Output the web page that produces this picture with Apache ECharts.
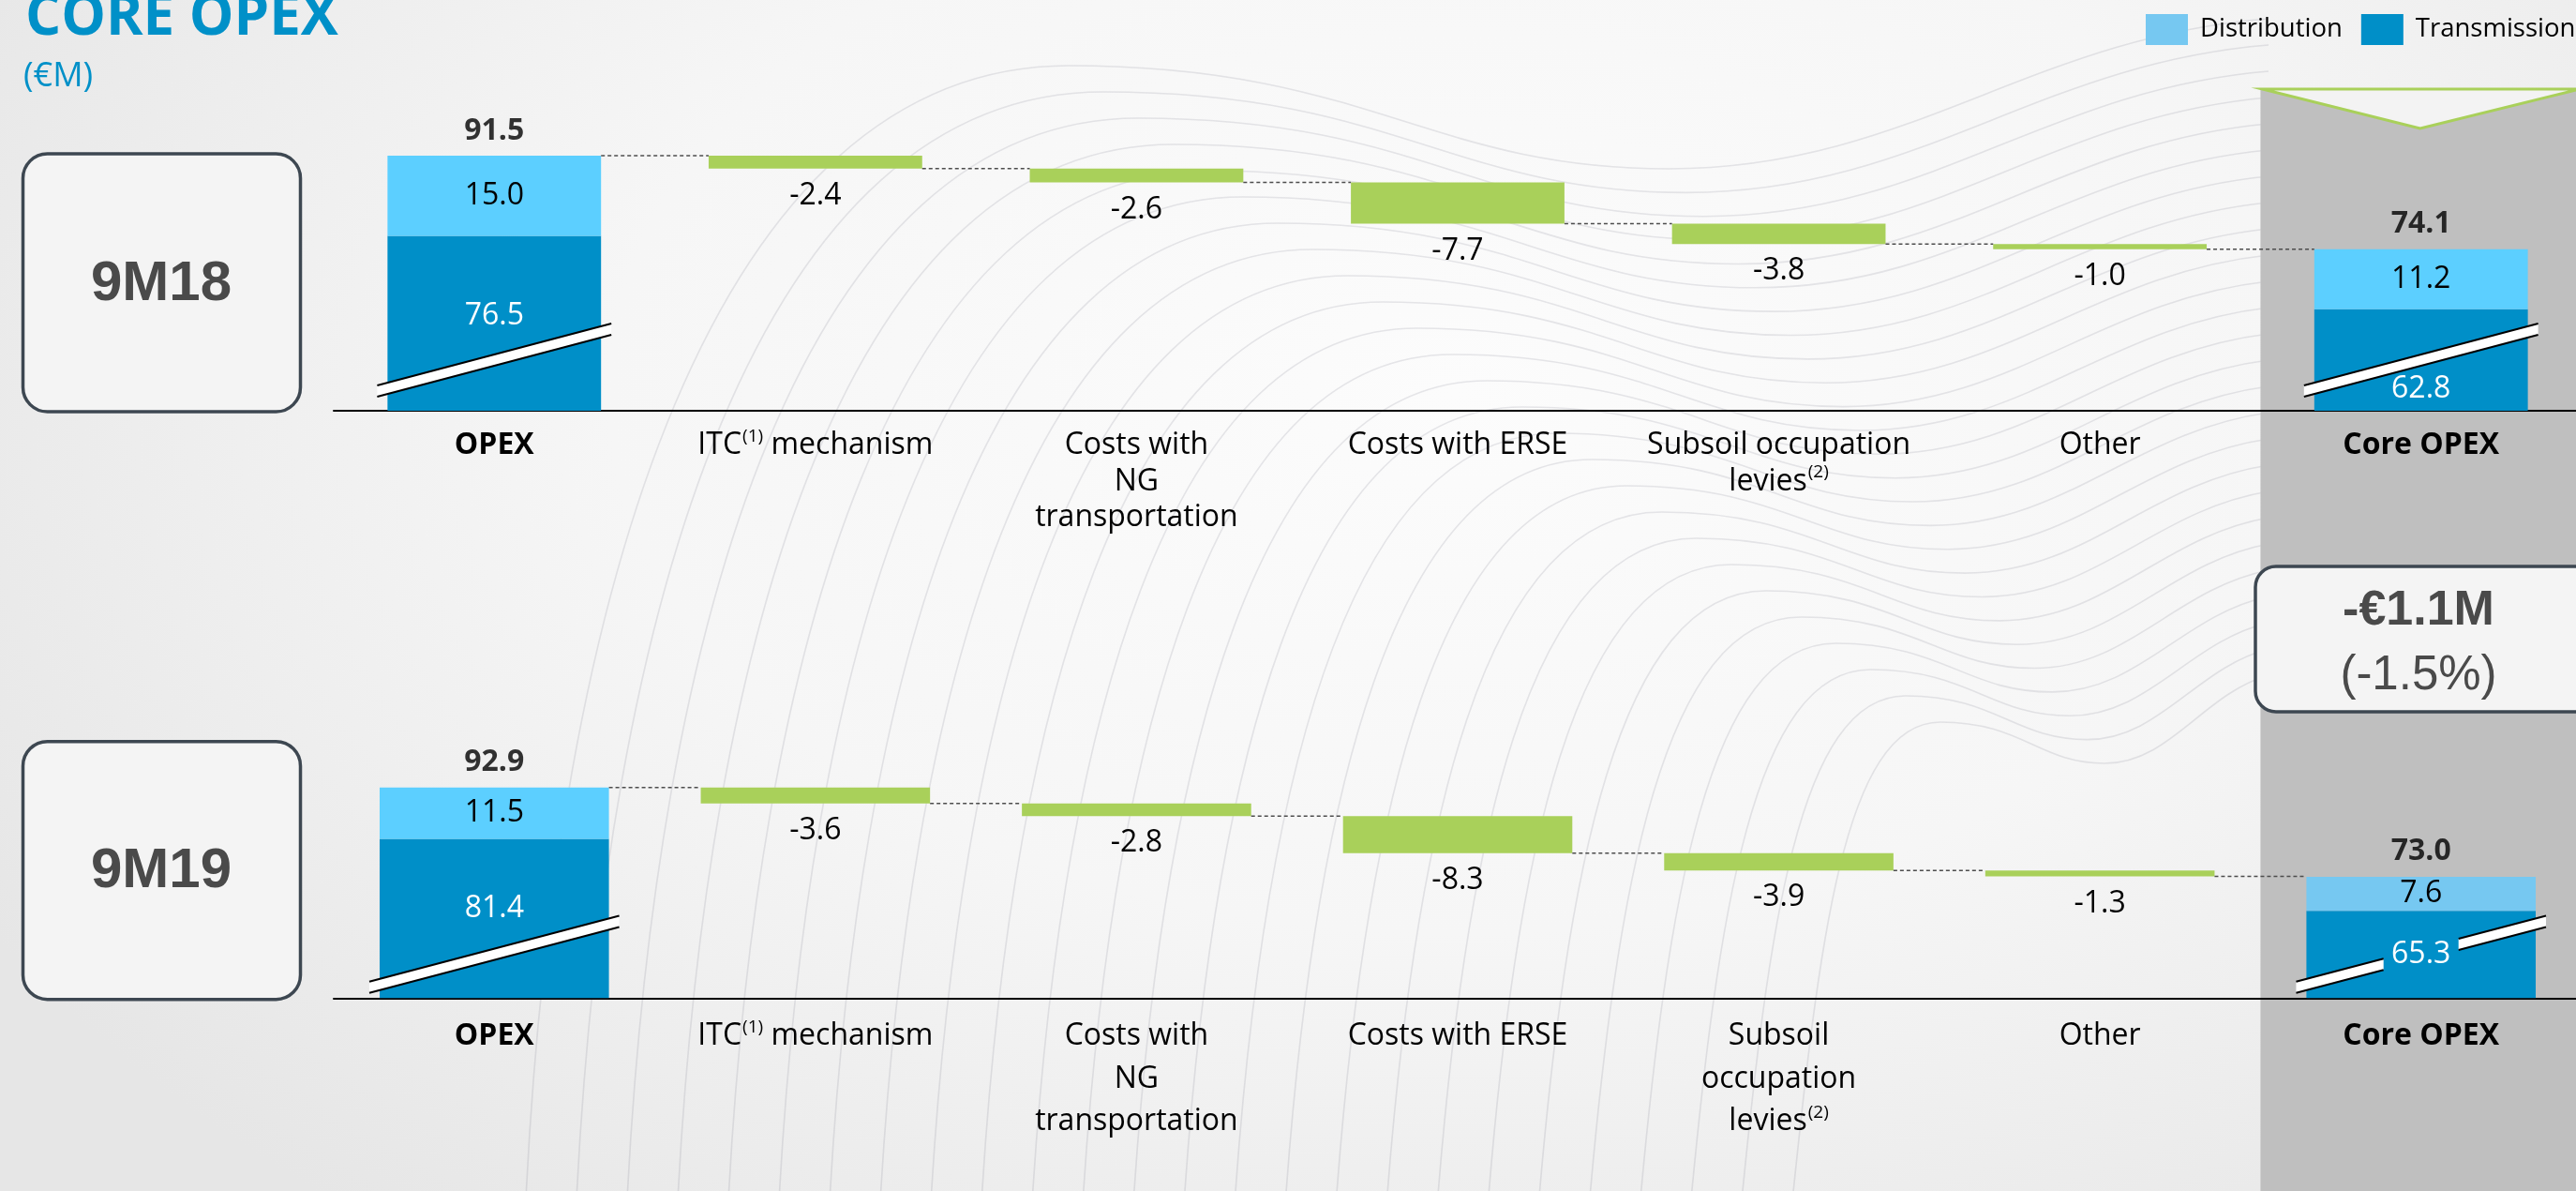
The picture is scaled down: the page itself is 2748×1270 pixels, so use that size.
<!DOCTYPE html>
<html>
<head>
<meta charset="utf-8">
<title>Core OPEX</title>
<script src="https://cdn.jsdelivr.net/npm/echarts@6/dist/echarts.min.js"></script>
<style>
  html, body { margin: 0; padding: 0; width: 2748px; height: 1270px; overflow: hidden; }
  body { background: radial-gradient(ellipse 1800px 1150px at 1550px 420px, #fcfcfc 0%, #f6f6f6 50%, #e6e6e6 100%); }
  #chart { width: 2748px; height: 1270px; }
</style>
</head>
<body>
<div id="chart"></div>
<script>
// ---- Values (€M) ----
const periods = ['9M18', '9M19'];

const categories9M18 = ['{b|OPEX}', 'ITC{sup|(1)} mechanism', 'Costs with\nNG\ntransportation', 'Costs with ERSE',
  'Subsoil occupation\nlevies{sup|(2)}', 'Other', '{b|Core OPEX}'];
const categories9M19 = ['{b|OPEX}', 'ITC{sup|(1)} mechanism', 'Costs with\nNG\ntransportation', 'Costs with ERSE',
  'Subsoil\noccupation\nlevies{sup|(2)}', 'Other', '{b|Core OPEX}'];

// [OPEX, Core OPEX]
const transmission9M18 = [76.5, 62.8];
const distribution9M18 = [15.0, 11.2];
const totals9M18 = [91.5, 74.1];
// ITC, NG transportation, ERSE, subsoil levies, other
const changes9M18 = [-2.4, -2.6, -7.7, -3.8, -1.0];

const transmission9M19 = [81.4, 65.3];
const distribution9M19 = [11.5, 7.6];
const totals9M19 = [92.9, 73.0];
const changes9M19 = [-3.6, -2.8, -8.3, -3.9, -1.3];

const variationAbs = '-€1.1M';
const variationPct = '(-1.5%)';

// ---- Styling ----
const FONT = "'Open Sans', sans-serif";
const BOX_FONT = "'Liberation Sans', Arial, sans-serif";
const COLORS = {
  transmission: '#008fc8',
  distribution: '#5ccfff',
  distributionSoft: '#76c8f1',
  change: '#a9d05a',
  ink: '#000000',
  frame: '#3d4751',
  frameText: '#4a4a4a',
  panel: '#bfbfbf',
  title: '#0090c8',
  connector: '#4d4d4d',
  swirl: 'rgba(120,120,135,0.17)'
};

const panelCfg = [
  {
    labels: categories9M18, trans: transmission9M18, dist: distribution9M18,
    totals: totals9M18, changes: changes9M18,
    grid: { left: 356, right: -6, top: 117.4, height: 320.6 },
    min: 43.85, max: 100, barRatio: 0.665,
    lineHeight: 38.5, margin: 18, supPad: 0,
    transShift: [-8, 31], distColors: [COLORS.distribution, COLORS.distribution],
    breakLift: 21, labelGapOnCore: false
  },
  {
    labels: categories9M19, trans: transmission9M19, dist: distribution9M19,
    totals: totals9M19, changes: changes9M19,
    grid: { left: 356, right: -6, top: 805.8, height: 258.5 },
    min: 45.8, max: 100, barRatio: 0.714,
    lineHeight: 45.5, margin: 18, supPad: 4,
    transShift: [-11, 0], distColors: [COLORS.distribution, COLORS.distributionSoft],
    breakLift: 11.5, labelGapOnCore: true
  }
];

const chart = echarts.init(document.getElementById('chart'), null, { renderer: 'canvas' });

const grids = [], xAxes = [], yAxes = [], series = [];

panelCfg.forEach((cfg, p) => {
  const n = cfg.labels.length;
  const blanks = cfg.changes.map(() => '-');

  // running level after each step of the bridge
  const levels = [cfg.totals[0]];
  cfg.changes.forEach((c, i) => levels.push(Math.round((levels[i] + c) * 10) / 10));

  grids.push(Object.assign({ outerBoundsMode: 'none', containLabel: false }, cfg.grid));

  xAxes.push({
    type: 'category', gridIndex: p, data: cfg.labels,
    axisLine: { show: true, lineStyle: { color: '#000', width: 2 } },
    axisTick: { show: false },
    splitLine: { show: false },
    axisLabel: {
      interval: 0, margin: cfg.margin, color: COLORS.ink,
      fontFamily: FONT, fontSize: 32, lineHeight: cfg.lineHeight,
      rich: {
        b: { fontFamily: FONT, fontSize: 32, fontWeight: 'bold', color: COLORS.ink, lineHeight: cfg.lineHeight },
        sup: { fontFamily: FONT, fontSize: 19, color: COLORS.ink, verticalAlign: 'top', lineHeight: 20, padding: [cfg.supPad, 0, 0, 1] }
      }
    }
  });

  yAxes.push({
    type: 'value', gridIndex: p, min: cfg.min, max: cfg.max, show: false,
    splitLine: { show: false }
  });

  const stack = 'bridge' + p;
  const barWidth = (cfg.barRatio * 100) + '%';
  const common = { xAxisIndex: p, yAxisIndex: p, stack, barWidth, silent: true, animation: false };

  series.push(Object.assign({}, common, {
    name: 'Transmission', type: 'bar',
    itemStyle: { color: COLORS.transmission },
    label: {
      show: true, position: 'inside', color: '#ffffff', fontFamily: FONT, fontSize: 32,
      formatter: (pr) => Number(pr.value).toFixed(1)
    },
    data: [cfg.trans[0], ...blanks, cfg.trans[1]].map((v, i) => {
      if (v === '-') return v;
      const k = i === 0 ? 0 : 1;
      return { value: v, label: { offset: [0, cfg.transShift[k]] } };
    })
  }));

  series.push(Object.assign({}, common, {
    name: 'Distribution', type: 'bar',
    itemStyle: { color: COLORS.distribution },
    label: {
      show: true, position: 'inside', color: COLORS.ink, fontFamily: FONT, fontSize: 32,
      formatter: (pr) => Number(pr.value).toFixed(1)
    },
    data: [cfg.dist[0], ...blanks, cfg.dist[1]].map((v, i) => {
      if (v === '-') return v;
      const k = i === 0 ? 0 : 1;
      return { value: v, itemStyle: { color: cfg.distColors[k] } };
    })
  }));

  // invisible base that lifts each change bar to its level
  series.push(Object.assign({}, common, {
    name: 'base', type: 'bar',
    itemStyle: { color: 'rgba(0,0,0,0)' },
    data: ['-', ...levels.slice(1), '-']
  }));

  series.push(Object.assign({}, common, {
    name: 'change', type: 'bar',
    itemStyle: { color: COLORS.change },
    label: {
      show: true, position: 'bottom', distance: 13, color: COLORS.ink, fontFamily: FONT, fontSize: 32,
      formatter: (pr) => cfg.changes[pr.dataIndex - 1].toFixed(1)
    },
    data: ['-', ...cfg.changes.map(c => Math.abs(c)), '-']
  }));

  // total above the stacked columns
  series.push({
    name: 'total', type: 'scatter', xAxisIndex: p, yAxisIndex: p, silent: true, animation: false,
    symbol: 'rect', symbolSize: 1, itemStyle: { color: 'rgba(0,0,0,0)' },
    label: {
      show: true, position: 'top', distance: 10, color: COLORS.ink, fontFamily: FONT,
      fontSize: 32, fontWeight: 'bold', formatter: (pr) => Number(pr.value[1]).toFixed(1)
    },
    data: [[0, cfg.totals[0]], [n - 1, cfg.totals[1]]]
  });

  // dashed connectors between neighbouring columns
  series.push({
    name: 'connector', type: 'custom', xAxisIndex: p, yAxisIndex: p, silent: true, animation: false, z: 3,
    renderItem: (params, api) => {
      const pt = api.coord([api.value(0), api.value(1)]);
      const band = api.size([1, 0])[0];
      const half = band * cfg.barRatio / 2;
      return {
        type: 'line',
        shape: { x1: pt[0] + half, y1: pt[1], x2: pt[0] + band - half, y2: pt[1] },
        style: { stroke: COLORS.connector, lineWidth: 1.5, lineDash: [4, 3] }
      };
    },
    data: levels.map((v, i) => [i, v])
  });
});

chart.setOption({
  backgroundColor: 'transparent',
  animation: false,
  legend: {
    orient: 'horizontal', left: 2289, top: 15, width: 700, padding: 0,
    itemWidth: 45, itemHeight: 33, itemGap: 20,
    icon: 'rect', selectedMode: false,
    textStyle: { fontFamily: FONT, fontSize: 27.5, color: COLORS.ink, padding: [0, 0, 0, 8] },
    data: [
      { name: 'Distribution', itemStyle: { color: COLORS.distributionSoft } },
      { name: 'Transmission', itemStyle: { color: COLORS.transmission } }
    ]
  },
  grid: grids, xAxis: xAxes, yAxis: yAxes, series
});

// ---- Decorations placed from the axes ----
function px(p, cat, val) {
  return chart.convertToPixel({ gridIndex: p }, [cat, val]);
}

const graphics = [];
const W = 2748, H = 1270;

// faint swirl lines of the slide backdrop (three cubic pieces each)
function swirlPiece(a, c1, c2, b) {
  graphics.push({
    type: 'bezierCurve', z: -30, silent: true,
    shape: { x1: a[0], y1: a[1], cpx1: c1[0], cpy1: c1[1], cpx2: c2[0], cpy2: c2[1], x2: b[0], y2: b[1] },
    style: { fill: null, stroke: COLORS.swirl, lineWidth: 1.6 }
  });
}
for (let k = 0; k < 26; k++) {
  const t = k / 25;
  const x0 = 560 + 1350 * t;            // foot of the line at the bottom edge
  const yTop = 70 + 700 * t;            // height where the line turns right
  const xa = x0 + 160 + 420 * (1 - t);  // end of the rising part
  const rise = 1300 - yTop;
  const xb = xa + (2420 - xa) * 0.5;
  const dip = 110 * (1 - 0.6 * t);
  swirlPiece([x0, 1300], [x0 + 30, 1300 - rise * 0.55], [x0 + (xa - x0) * 0.35, yTop], [xa, yTop]);
  swirlPiece([xa, yTop], [xa + (xb - xa) * 0.5, yTop], [xb - (xb - xa) * 0.4, yTop + dip], [xb, yTop + dip]);
  swirlPiece([xb, yTop + dip], [xb + (2420 - xb) * 0.4, yTop + dip], [2420 - (2420 - xb) * 0.4, yTop - 30], [2420, yTop - 50]);
}

// highlighted Core OPEX column
const lastIdx = categories9M18.length - 1;
const bandW = px(0, 1, 50)[0] - px(0, 0, 50)[0];
const panelLeft = px(0, lastIdx, 50)[0] - bandW / 2;
graphics.push({
  type: 'rect', z: -20, silent: true,
  shape: { x: panelLeft, y: 94, width: W - panelLeft + 10, height: H - 94 },
  style: { fill: COLORS.panel }
});
graphics.push({
  type: 'polygon', z: -19, silent: true,
  shape: { points: [[panelLeft + 2, 95], [W + 4, 95], [(panelLeft + W + 4) / 2, 137]] },
  style: { fill: '#f3f3f3', stroke: COLORS.change, lineWidth: 3 }
});

// title
graphics.push({
  type: 'text', x: 27, y: 20, silent: true,
  style: { text: 'CORE OPEX', fontFamily: FONT, fontWeight: 'bold', fontSize: 60, fill: COLORS.title, align: 'left', verticalAlign: 'middle' }
});
graphics.push({
  type: 'text', x: 25, y: 82, silent: true,
  style: { text: '(€M)', fontFamily: FONT, fontSize: 36, fill: COLORS.title, align: 'left', verticalAlign: 'middle' }
});

// period boxes
const boxTops = [164, 790.7];
periods.forEach((name, p) => {
  graphics.push({
    type: 'rect', z: 1, silent: true,
    shape: { x: 24.5, y: boxTops[p], width: 296, height: 275, r: 26 },
    style: { fill: '#f4f4f4', stroke: COLORS.frame, lineWidth: 3.5 }
  });
  graphics.push({
    type: 'text', z: 2, silent: true, x: 172, y: boxTops[p] + 139,
    style: { text: name, fontFamily: BOX_FONT, fontWeight: 'bold', fontSize: 60, fill: COLORS.frameText, align: 'center', verticalAlign: 'middle' }
  });
});

// year-on-year variation badge
graphics.push({
  type: 'rect', z: 5, silent: true,
  shape: { x: 2406, y: 604, width: 380, height: 155, r: 22 },
  style: { fill: '#f4f4f4', stroke: COLORS.frame, lineWidth: 3.5 }
});
graphics.push({
  type: 'text', z: 6, silent: true, x: 2580, y: 652,
  style: { text: variationAbs, fontFamily: BOX_FONT, fontWeight: 'bold', fontSize: 52, fill: COLORS.frameText, align: 'center', verticalAlign: 'middle' }
});
graphics.push({
  type: 'text', z: 6, silent: true, x: 2580, y: 721,
  style: { text: variationPct, fontFamily: BOX_FONT, fontSize: 51, fill: COLORS.frameText, align: 'center', verticalAlign: 'middle' }
});

// axis-break bands across the truncated columns
const SLOPE = 0.264, THICK = 12, EXT = 11;
function breakBand(xl, xr, yLeftCenter, x0, x1) {
  const yAt = (x) => yLeftCenter - SLOPE * (x - xl);
  const a = THICK / 2;
  graphics.push({
    type: 'polygon', z: 20, silent: true,
    shape: { points: [[x0, yAt(x0) - a], [x1, yAt(x1) - a], [x1, yAt(x1) + a], [x0, yAt(x0) + a]] },
    style: { fill: '#ffffff' }
  });
  [-a, a].forEach(d => graphics.push({
    type: 'line', z: 21, silent: true,
    shape: { x1: x0, y1: yAt(x0) + d, x2: x1, y2: yAt(x1) + d },
    style: { stroke: '#000', lineWidth: 2 }
  }));
}
panelCfg.forEach((cfg, p) => {
  const bw = px(p, 1, 50)[0] - px(p, 0, 50)[0];
  const half = bw * cfg.barRatio / 2;
  const axisY = px(p, 0, cfg.min)[1];
  [0, cfg.labels.length - 1].forEach(ci => {
    const cx = px(p, ci, 50)[0];
    const xl = cx - half - EXT, xr = cx + half + EXT;
    const yl = axisY - cfg.breakLift;
    if (ci > 0 && cfg.labelGapOnCore) {
      breakBand(xl, xr, yl, xl, cx - 40);
      breakBand(xl, xr, yl, cx + 40, xr);
    } else {
      breakBand(xl, xr, yl, xl, xr);
    }
  });
});

chart.setOption({ graphic: { elements: graphics } });
</script>
</body>
</html>
